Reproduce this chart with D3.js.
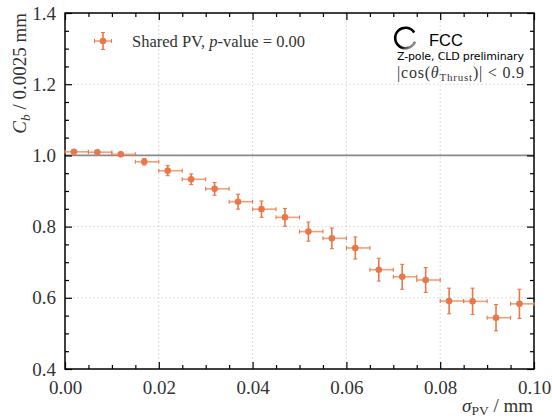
<!DOCTYPE html>
<html>
<head>
<meta charset="utf-8">
<script src="https://cdn.jsdelivr.net/npm/d3@7"></script>
<style>
  body { margin: 0; background: #fff; }
  svg { display: block; }
</style>
</head>
<body>
<div id="chart"></div>
<script>
// values
const sigmaPV = [0.0019, 0.0069, 0.0119, 0.0169, 0.0219, 0.0269, 0.0319, 0.0369, 0.0419, 0.0469,
                 0.0519, 0.0569, 0.0619, 0.0669, 0.0719, 0.0769, 0.0819, 0.0869, 0.0919, 0.0969];
const binLow  = [0.000, 0.005, 0.010, 0.015, 0.020, 0.025, 0.030, 0.035, 0.040, 0.045,
                 0.050, 0.055, 0.060, 0.065, 0.070, 0.075, 0.080, 0.085, 0.090, 0.095];
const binHigh = [0.005, 0.010, 0.015, 0.020, 0.025, 0.030, 0.035, 0.040, 0.045, 0.050,
                 0.055, 0.060, 0.065, 0.070, 0.075, 0.080, 0.085, 0.090, 0.095, 0.100];
const cb      = [1.010, 1.009, 1.003, 0.982, 0.957, 0.933, 0.906, 0.870, 0.849, 0.826,
                 0.786, 0.767, 0.740, 0.679, 0.659, 0.650, 0.591, 0.590, 0.544, 0.583];
const cbErr   = [0.004, 0.005, 0.006, 0.009, 0.014, 0.015, 0.018, 0.021, 0.023, 0.025,
                 0.027, 0.029, 0.031, 0.032, 0.035, 0.035, 0.036, 0.037, 0.037, 0.041];
const xTicks = [0.00, 0.02, 0.04, 0.06, 0.08, 0.10];
const yTicks = [0.4, 0.6, 0.8, 1.0, 1.2, 1.4];
const refLine = 1.0;

const W = 552, H = 418;
const margin = { top: 13, right: 18, bottom: 49, left: 65 };
const iw = W - margin.left - margin.right;
const ih = H - margin.top - margin.bottom;
const orange = "#e8784a";
const orangeLight = "#f0a079";
const serif = "'Liberation Serif', serif";

const svg = d3.select("#chart").append("svg")
  .attr("width", W).attr("height", H);

const g = svg.append("g").attr("transform", `translate(${margin.left},${margin.top})`);

const x = d3.scaleLinear().domain([0, 0.1]).range([0, iw]);
const y = d3.scaleLinear().domain([0.4, 1.4]).range([ih, 0]);

// grid
g.append("g").selectAll("line").data(xTicks.slice(1, -1)).enter().append("line")
  .attr("x1", d => x(d)).attr("x2", d => x(d)).attr("y1", 0).attr("y2", ih)
  .attr("stroke", "#d4d4d4").attr("stroke-width", 0.8).attr("stroke-dasharray", "2,2");
g.append("g").selectAll("line").data(yTicks.slice(1, -1)).enter().append("line")
  .attr("y1", d => y(d)).attr("y2", d => y(d)).attr("x1", 0).attr("x2", iw)
  .attr("stroke", "#d4d4d4").attr("stroke-width", 0.8).attr("stroke-dasharray", "2,2");

// reference line
g.append("line")
  .attr("x1", 0).attr("x2", iw).attr("y1", y(refLine)).attr("y2", y(refLine))
  .attr("stroke", "#8a8a8a").attr("stroke-width", 1.6);

// axes, ticks inside on all four sides
const xMinor = d3.range(0, 0.1001, 0.005).filter(v => !xTicks.some(t => Math.abs(t - v) < 1e-9));
const yMinor = d3.range(0.4, 1.4001, 0.05).filter(v => !yTicks.some(t => Math.abs(t - v) < 1e-9));

function styleAxis(sel, fontSize) {
  sel.attr("font-family", serif);
  sel.select(".domain").remove();
  sel.selectAll(".tick line").attr("stroke", "#000").attr("stroke-width", 1.2);
  sel.selectAll(".tick text")
    .style("font-family", serif).style("font-size", fontSize + "px")
    .attr("fill", "#333");
}

g.append("g").attr("transform", `translate(0,${ih})`)
  .call(d3.axisBottom(x).tickValues(xTicks).tickSize(-7).tickPadding(12).tickFormat(d3.format(".2f")))
  .call(s => styleAxis(s, 19));
g.append("g").attr("transform", `translate(0,${ih})`)
  .call(d3.axisBottom(x).tickValues(xMinor).tickSize(-4).tickFormat(""))
  .call(s => styleAxis(s, 0));
g.append("g")
  .call(d3.axisTop(x).tickValues(xTicks).tickSize(-7).tickFormat(""))
  .call(s => styleAxis(s, 0));
g.append("g")
  .call(d3.axisTop(x).tickValues(xMinor).tickSize(-4).tickFormat(""))
  .call(s => styleAxis(s, 0));

g.append("g")
  .call(d3.axisLeft(y).tickValues(yTicks).tickSize(-7).tickPadding(9).tickFormat(d3.format(".1f")))
  .call(s => styleAxis(s, 19));
g.append("g")
  .call(d3.axisLeft(y).tickValues(yMinor).tickSize(-4).tickFormat(""))
  .call(s => styleAxis(s, 0));
g.append("g").attr("transform", `translate(${iw},0)`)
  .call(d3.axisRight(y).tickValues(yTicks).tickSize(-7).tickFormat(""))
  .call(s => styleAxis(s, 0));
g.append("g").attr("transform", `translate(${iw},0)`)
  .call(d3.axisRight(y).tickValues(yMinor).tickSize(-4).tickFormat(""))
  .call(s => styleAxis(s, 0));

g.append("rect")
  .attr("width", iw).attr("height", ih)
  .attr("fill", "none").attr("stroke", "#000").attr("stroke-width", 1.5);

// data points with error bars
const pts = sigmaPV.map((v, i) => ({ x: v, lo: binLow[i], hi: binHigh[i], y: cb[i], e: cbErr[i] }));
const pg = g.append("g").selectAll("g").data(pts).enter().append("g");
pg.append("line")
  .attr("x1", d => x(d.lo)).attr("x2", d => x(d.hi))
  .attr("y1", d => y(d.y)).attr("y2", d => y(d.y))
  .attr("stroke", orangeLight).attr("stroke-width", 1.6);
pg.append("line")
  .attr("x1", d => x(d.x)).attr("x2", d => x(d.x))
  .attr("y1", d => y(d.y - d.e)).attr("y2", d => y(d.y + d.e))
  .attr("stroke", orange).attr("stroke-width", 1.6);
// caps
pg.each(function(d) {
  const s = d3.select(this);
  [d.lo, d.hi].forEach(v => s.append("line")
    .attr("x1", x(v)).attr("x2", x(v)).attr("y1", y(d.y) - 2).attr("y2", y(d.y) + 2)
    .attr("stroke", orange).attr("stroke-width", 1.1));
  [d.y - d.e, d.y + d.e].forEach(v => s.append("line")
    .attr("x1", x(d.x) - 2).attr("x2", x(d.x) + 2).attr("y1", y(v)).attr("y2", y(v))
    .attr("stroke", orange).attr("stroke-width", 1.1));
});
pg.append("circle")
  .attr("cx", d => x(d.x)).attr("cy", d => y(d.y)).attr("r", 3.3)
  .attr("fill", orange);

// legend
const lg = svg.append("g").attr("transform", "translate(103,41)");
lg.append("line").attr("x1", -8.5).attr("x2", 8.5).attr("stroke", orangeLight).attr("stroke-width", 1.6);
lg.append("line").attr("y1", -8.5).attr("y2", 8.5).attr("stroke", orange).attr("stroke-width", 1.6);
[-8.5, 8.5].forEach(v => {
  lg.append("line").attr("x1", v).attr("x2", v).attr("y1", -2).attr("y2", 2).attr("stroke", orange).attr("stroke-width", 1.1);
  lg.append("line").attr("y1", v).attr("y2", v).attr("x1", -2).attr("x2", 2).attr("stroke", orange).attr("stroke-width", 1.1);
});
lg.append("circle").attr("r", 3.3).attr("fill", orange);
const lt = svg.append("text").attr("x", 132).attr("y", 47)
  .attr("font-family", serif).attr("font-size", 16.5).attr("fill", "#333");
lt.append("tspan").text("Shared PV, ");
lt.append("tspan").attr("font-style", "italic").text("p");
lt.append("tspan").text("-value = 0.00");

// FCC logo
const cx0 = 405.5, cy0 = 38, r0 = 10.3;
const grad = svg.append("defs").append("linearGradient").attr("id", "ringGrad")
  .attr("x1", "0.2").attr("y1", "0.2").attr("x2", "1").attr("y2", "1");
grad.append("stop").attr("offset", "0.5").attr("stop-color", "#000");
grad.append("stop").attr("offset", "0.95").attr("stop-color", "#e0e0e0");
const arc = d3.arc().innerRadius(r0 - 1.3).outerRadius(r0 + 1.3)
  .startAngle(0.62 * Math.PI).endAngle(2.32 * Math.PI);
svg.append("path").attr("d", arc()).attr("transform", `translate(${cx0},${cy0})`)
  .attr("fill", "url(#ringGrad)");
svg.append("text").attr("x", 429).attr("y", 46)
  .attr("font-family", "'Liberation Sans', sans-serif").attr("font-size", 16.5)
  .attr("fill", "#000").text("FCC");
svg.append("text").attr("x", 397).attr("y", 60)
  .attr("font-family", "'DejaVu Sans', sans-serif").attr("font-size", 11)
  .attr("textLength", 127).attr("fill", "#000").text("Z-pole, CLD preliminary");
const ct = svg.append("text").attr("x", 397).attr("y", 78)
  .attr("font-family", serif).attr("font-size", 16).attr("fill", "#333")
  .attr("textLength", 127);
ct.append("tspan").text("|cos(");
ct.append("tspan").attr("font-style", "italic").text("θ");
ct.append("tspan").attr("font-size", 11).attr("dy", 3).text("Thrust");
ct.append("tspan").attr("dy", -3).text(")| < 0.9");

// axis labels
const yl = svg.append("text")
  .attr("transform", "translate(26,13) rotate(-90)")
  .attr("text-anchor", "end")
  .attr("font-family", serif).attr("font-size", 19).attr("fill", "#333");
yl.append("tspan").attr("font-style", "italic").text("C");
yl.append("tspan").attr("font-style", "italic").attr("font-size", 13.5).attr("dy", 4).text("b");
yl.append("tspan").attr("dy", -4).text(" / 0.0025 mm");

const xl = svg.append("text")
  .attr("x", 533).attr("y", 412).attr("text-anchor", "end")
  .attr("font-family", serif).attr("font-size", 19).attr("fill", "#333");
xl.append("tspan").attr("font-style", "italic").text("σ");
xl.append("tspan").attr("font-size", 13.5).attr("dy", 3).text("PV");
xl.append("tspan").attr("dy", -3).text(" / mm");
</script>
</body>
</html>
